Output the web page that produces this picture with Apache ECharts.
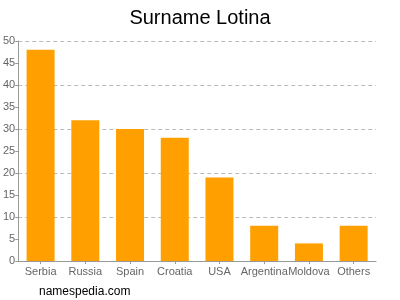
<!DOCTYPE html>
<html>
<head>
<meta charset="utf-8">
<script src="https://cdn.jsdelivr.net/npm/echarts@6/dist/echarts.min.js"></script>
<style>html,body{margin:0;padding:0;background:#fff}#c{width:400px;height:300px}</style>
</head>
<body>
<div id="c"></div>
<script>
const categories = ["Serbia","Russia","Spain","Croatia","USA","Argentina","Moldova","Others"];
const values = [48, 32, 30, 28, 19, 8, 4, 8];
const titleText = "Surname Lotina";
const watermark = "namespedia.com";

const FF = 'Liberation Sans, Arial, sans-serif';
const chart = echarts.init(document.getElementById('c'), null, {renderer: 'canvas'});
chart.setOption({
  animation: false,
  textStyle: {fontFamily: FF},
  title: [{
    text: titleText, left: 'center', top: 3,
    textStyle: {fontSize: 20, fontWeight: 'normal', color: '#000', fontFamily: FF}
  }, {
    text: watermark, left: 34, top: 281,
    textStyle: {fontSize: 12, fontWeight: 'normal', color: '#000', fontFamily: FF}
  }],
  grid: {left: 17, right: 24, top: 41, bottom: 39, containLabel: false},
  xAxis: {
    type: 'category', data: categories,
    axisLine: {lineStyle: {color: '#999'}},
    axisTick: {show: true, alignWithLabel: true, length: 3, lineStyle: {color: '#999'}},
    axisLabel: {color: '#666', fontSize: 11, margin: 5, interval: 0}
  },
  yAxis: [{
    type: 'value', min: 0, max: 50, interval: 5,
    axisLine: {show: true, lineStyle: {color: '#999'}},
    axisTick: {show: true, length: 3, lineStyle: {color: '#999'}},
    axisLabel: {color: '#666', fontSize: 11, margin: 3},
    splitLine: {show: false}
  }, {
    type: 'value', min: 0, max: 50, interval: 10, position: 'left',
    axisLine: {show: false}, axisTick: {show: false}, axisLabel: {show: false},
    splitLine: {show: true, lineStyle: {color: '#bbb', type: [4, 3]}}
  }],
  series: [{
    type: 'bar', data: values, barWidth: 28, yAxisIndex: 0, z: 3,
    itemStyle: {color: '#ffa000'}
  }]
});
</script>
</body>
</html>
